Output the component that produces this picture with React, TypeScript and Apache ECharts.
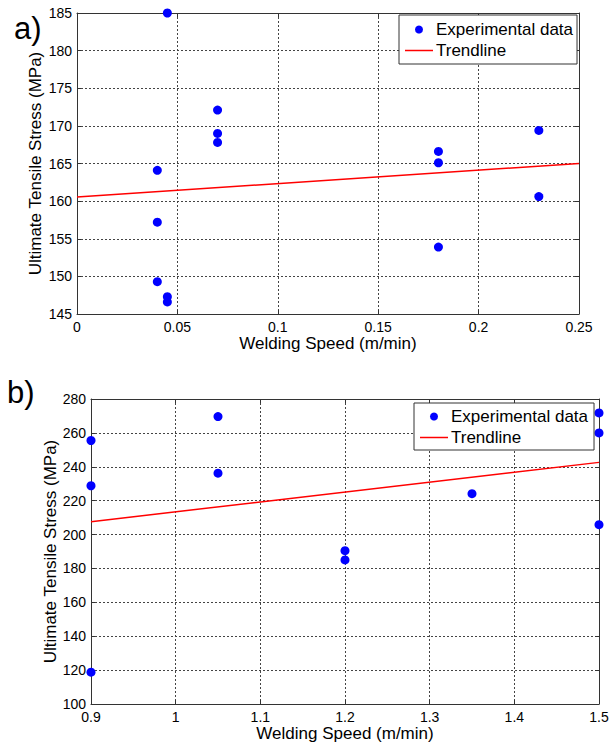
import React, { useEffect, useRef } from "react";
import * as echarts from "echarts";

// ---- Data: panel a) ----
const speedA = [0.045, 0.04, 0.04, 0.04, 0.045, 0.045, 0.07, 0.07, 0.07, 0.18, 0.18, 0.18, 0.23, 0.23];
const stressA = [185.0, 164.1, 157.2, 149.3, 147.3, 146.6, 172.1, 169.0, 167.8, 166.6, 165.1, 153.9, 169.4, 160.6];
const trendSpeedA = [0, 0.25];
const trendStressA = [160.55, 165.0];

// ---- Data: panel b) ----
const speedB = [0.9, 0.9, 0.9, 1.05, 1.05, 1.2, 1.2, 1.35, 1.5, 1.5, 1.5];
const stressB = [255.5, 228.8, 118.8, 269.6, 236.2, 190.5, 185.0, 224.1, 271.8, 260.0, 205.8];
const trendSpeedB = [0.9, 1.5];
const trendStressB = [207.6, 242.6];

// ---- Axis ticks ----
const xMinA = 0, xMaxA = 0.25, xStepA = 0.05;
const yMinA = 145, yMaxA = 185, yStepA = 5;
const xMinB = 0.9, xMaxB = 1.5, xStepB = 0.1;
const yMinB = 100, yMaxB = 280, yStepB = 20;

const seriesNames = ["Experimental data", "Trendline"];
const xTitle = "Welding Speed (m/min)";
const yTitle = "Ultimate Tensile Stress (MPa)";
const panelLabels = ["a)", "b)"];

const FONT = "'Liberation Sans', Arial, Helvetica, sans-serif";

export default function App() {
  const ref = useRef<HTMLDivElement>(null);
  useEffect(() => {
    if (!ref.current) return;
    const chart = echarts.init(ref.current, null, { renderer: "svg" });
    const zip = (xs: number[], ys: number[]) => xs.map((x, i) => [x, ys[i]]);

    const gridLine = { show: true, lineStyle: { color: "#444", type: [2, 2] as any, width: 1 } };
    const axisLineS = { show: true, onZero: false, lineStyle: { color: "#333", width: 1 } };
    const tickS = { show: true, inside: true, length: 4, lineStyle: { color: "#333" } };
    const labelS = { color: "#000", fontSize: 14, fontFamily: FONT };

    const mkX = (gi: number, min: number, max: number, step: number, main: boolean) => ({
      type: "value",
      gridIndex: gi,
      position: main ? "bottom" : "top",
      min, max, interval: step,
      axisLine: axisLineS,
      axisTick: tickS,
      axisLabel: main ? { ...labelS, margin: 6 } : { show: false },
      splitLine: main ? gridLine : { show: false },
      name: main ? xTitle : "",
      nameLocation: "middle",
      nameGap: 18,
      nameTextStyle: { color: "#000", fontSize: 17, fontFamily: FONT },
    });
    const mkY = (gi: number, min: number, max: number, step: number, main: boolean, gap: number) => ({
      type: "value",
      gridIndex: gi,
      position: main ? "left" : "right",
      min, max, interval: step,
      axisLine: axisLineS,
      axisTick: tickS,
      axisLabel: main ? { ...labelS, margin: 5 } : { show: false },
      splitLine: main ? gridLine : { show: false },
      name: main ? yTitle : "",
      nameLocation: "middle",
      nameGap: gap,
      nameMoveOverlap: false,
      nameTextStyle: { color: "#000", fontSize: 17, fontFamily: FONT },
    });

    const mkLegend = (left: number, top: number, pad: number[]) => ({
      orient: "vertical",
      left, top,
      padding: pad,
      itemGap: 4,
      itemWidth: 28,
      itemHeight: 8,
      borderColor: "#333",
      borderWidth: 1,
      backgroundColor: "#fff",
      textStyle: { color: "#000", fontSize: 17, fontFamily: FONT, padding: [0, 0, 0, -2] },
      data: [
        { name: seriesNames[0], icon: "circle" },
        { name: seriesNames[1], icon: "path://M0,0H28V1.5H0Z" },
      ],
      selectedMode: false,
    });

    chart.setOption({
      animation: false,
      backgroundColor: "#fff",
      grid: [
        { left: 77, top: 13, width: 502, height: 301 },
        { left: 91, top: 399, width: 508, height: 305 },
      ],
      xAxis: [
        mkX(0, xMinA, xMaxA, xStepA, true),
        mkX(0, xMinA, xMaxA, xStepA, false),
        mkX(1, xMinB, xMaxB, xStepB, true),
        mkX(1, xMinB, xMaxB, xStepB, false),
      ],
      yAxis: [
        mkY(0, yMinA, yMaxA, yStepA, true, 33),
        mkY(0, yMinA, yMaxA, yStepA, false, 33),
        mkY(1, yMinB, yMaxB, yStepB, true, 32),
        mkY(1, yMinB, yMaxB, yStepB, false, 32),
      ],
      legend: [mkLegend(399, 15, [6, 4, 5, 6]), mkLegend(414, 403, [5, 6, 4, 6])],
      series: [
        {
          name: seriesNames[0], type: "scatter", xAxisIndex: 0, yAxisIndex: 0,
          data: zip(speedA, stressA), symbol: "circle", symbolSize: 9, clip: false,
          itemStyle: { color: "#0000ff", opacity: 1 }, z: 3,
        },
        {
          name: seriesNames[1], type: "line", xAxisIndex: 0, yAxisIndex: 0,
          data: zip(trendSpeedA, trendStressA), symbol: "none", showSymbol: false,
          lineStyle: { color: "#ff0000", width: 1.5 }, itemStyle: { color: "#ff0000" }, z: 2,
        },
        {
          name: seriesNames[0], type: "scatter", xAxisIndex: 2, yAxisIndex: 2,
          data: zip(speedB, stressB), symbol: "circle", symbolSize: 9, clip: false,
          itemStyle: { color: "#0000ff", opacity: 1 }, z: 3,
        },
        {
          name: seriesNames[1], type: "line", xAxisIndex: 2, yAxisIndex: 2,
          data: zip(trendSpeedB, trendStressB), symbol: "none", showSymbol: false,
          lineStyle: { color: "#ff0000", width: 1.5 }, itemStyle: { color: "#ff0000" }, z: 2,
        },
      ],
      graphic: [
        { type: "text", left: 14, top: 13, style: { text: panelLabels[0], fontSize: 31, fontFamily: FONT, fill: "#000" } },
        { type: "text", left: 7, top: 377, style: { text: panelLabels[1], fontSize: 31, fontFamily: FONT, fill: "#000" } },
      ],
    } as any);
    return () => chart.dispose();
  }, []);
  return (
    <div
      ref={ref}
      style={{ position: "fixed", left: 0, top: 0, width: 612, height: 743, background: "#fff" }}
    />
  );
}
